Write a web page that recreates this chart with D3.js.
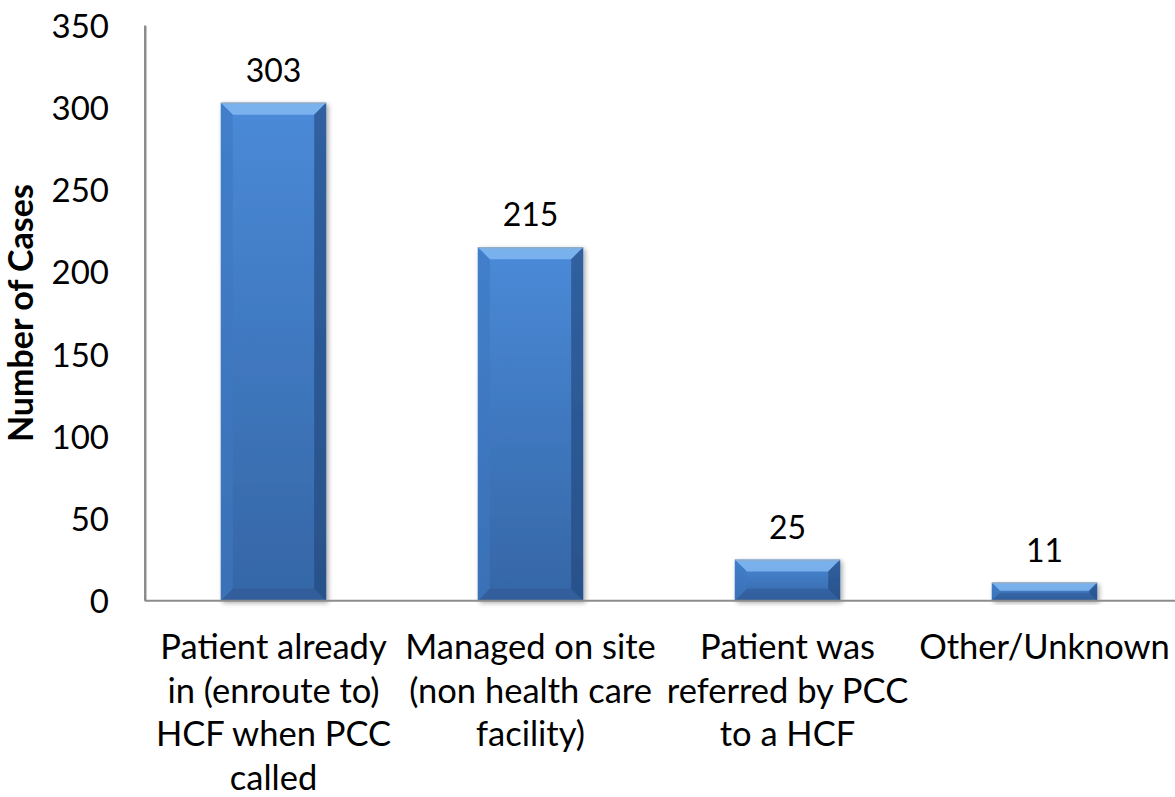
<!DOCTYPE html>
<meta charset="utf-8">
<style>
body { margin: 0; background: #fff; }
text { font-family: Lato, "Open Sans", sans-serif; fill: #000; }
.tick text { font-size: 33px; }
.domain { stroke: #8c8c8c; stroke-width: 2px; }
</style>
<body>
<svg width="1175" height="797"></svg>
<script src="https://d3js.org/d3.v7.min.js"></script>
<script>

var categories = ["Patient already in (enroute to) HCF when PCC called",
                  "Managed on site (non health care facility)",
                  "Patient was referred by PCC to a HCF",
                  "Other/Unknown"];
var labelLines = [["Patient already", "in (enroute to)", "HCF when PCC", "called"],
                  ["Managed on site", "(non health care", "facility)"],
                  ["Patient was", "referred by PCC", "to a HCF"],
                  ["Other/Unknown"]];
var values = [303, 215, 25, 11];
var yTicks = [0, 50, 100, 150, 200, 250, 300, 350];

var svg = d3.select("svg");

var x = d3.scaleBand()
    .domain(categories)
    .range([145, 1173])
    .paddingInner(0.59)
    .paddingOuter(0.295);

var y = d3.scaleLinear()
    .domain([0, 350])
    .range([600.7, 25.4]);

// shadow filter
var defs = svg.append("defs");
var f = defs.append("filter").attr("id", "shadow").attr("x", "-20%").attr("y", "-20%").attr("width", "140%").attr("height", "140%");
f.append("feGaussianBlur").attr("in", "SourceAlpha").attr("stdDeviation", 2.5);
f.append("feOffset").attr("dx", 2).attr("dy", 2).attr("result", "b");
f.append("feComponentTransfer").append("feFuncA").attr("type", "linear").attr("slope", 0.35);
var m = f.append("feMerge");
m.append("feMergeNode");
m.append("feMergeNode").attr("in", "SourceGraphic");

var grad = defs.append("linearGradient").attr("id", "face").attr("x1", 0).attr("y1", 0).attr("x2", 0).attr("y2", 1);
grad.append("stop").attr("offset", "0%").attr("stop-color", "#4a8ad8");
grad.append("stop").attr("offset", "100%").attr("stop-color", "#3566a6");

// y axis
svg.append("g")
    .attr("transform", "translate(145,0)")
    .call(d3.axisLeft(y).tickValues(yTicks).tickSize(0).tickPadding(36))
    .call(function(g) { g.selectAll(".tick text").attr("dy", "0.36em"); });

svg.append("text")
    .attr("transform", "translate(33," + y(175) + ") rotate(-90)")
    .attr("text-anchor", "middle")
    .style("font-size", "34px")
    .style("font-weight", "bold")
    .text("Number of Cases");

// bars
var bars = svg.append("g").selectAll("g")
    .data(values)
    .enter().append("g")
      .attr("filter", "url(#shadow)");

bars.each(function(d, i) {
  var g = d3.select(this);
  var x0 = x(categories[i]), x1 = x0 + x.bandwidth();
  var y0 = y(d), y1 = y(0);
  var b = Math.min(12, (y1 - y0) / 2 - 1);
  g.append("rect")
      .attr("x", x0).attr("y", y0)
      .attr("width", x1 - x0).attr("height", y1 - y0)
      .attr("fill", "url(#face)");
  function poly(pts, color, op) {
    g.append("polygon")
        .attr("points", pts.map(function(p) { return p.join(","); }).join(" "))
        .attr("fill", color).attr("opacity", op);
  }
  poly([[x0, y0], [x1, y0], [x1 - b, y0 + b], [x0 + b, y0 + b]], "#86bbf4", 0.8);
  poly([[x0, y1], [x1, y1], [x1 - b, y1 - b], [x0 + b, y1 - b]], "#2c5590", 0.5);
  poly([[x0, y0], [x0 + b, y0 + b], [x0 + b, y1 - b], [x0, y1]], "#3d78c2", 0.6);
  poly([[x1, y0], [x1 - b, y0 + b], [x1 - b, y1 - b], [x1, y1]], "#1f4478", 0.6);
  g.append("line")
      .attr("x1", x0).attr("x2", x1).attr("y1", y0 + 0.5).attr("y2", y0 + 0.5)
      .attr("stroke", "#9aa8b8").attr("stroke-width", 1);
});

// value labels
svg.append("g").selectAll("text")
    .data(values)
    .enter().append("text")
      .attr("x", function(d, i) { return x(categories[i]) + x.bandwidth() / 2; })
      .attr("y", function(d) { return y(d) - 21; })
      .attr("text-anchor", "middle")
      .style("font-size", "32px")
      .text(function(d) { return d; });

// x axis
svg.append("line")
    .attr("class", "domain")
    .attr("x1", 145).attr("x2", 1175)
    .attr("y1", y(0)).attr("y2", y(0));
svg.append("line")
    .attr("class", "domain")
    .attr("x1", 145).attr("x2", 145)
    .attr("y1", y(350)).attr("y2", y(0));

// category labels
var cl = svg.append("g").selectAll("text")
    .data(labelLines)
    .enter().append("text")
      .attr("text-anchor", "middle")
      .style("font-size", "34.5px");
cl.selectAll("tspan")
    .data(function(d, i) { return d.map(function(t) { return {t: t, i: i}; }); })
    .enter().append("tspan")
      .attr("x", function(d) { return x(categories[d.i]) + x.bandwidth() / 2; })
      .attr("y", function(d, j) { return 659 + j * 43.5; })
      .text(function(d) { return d.t; });

</script>
</body>
